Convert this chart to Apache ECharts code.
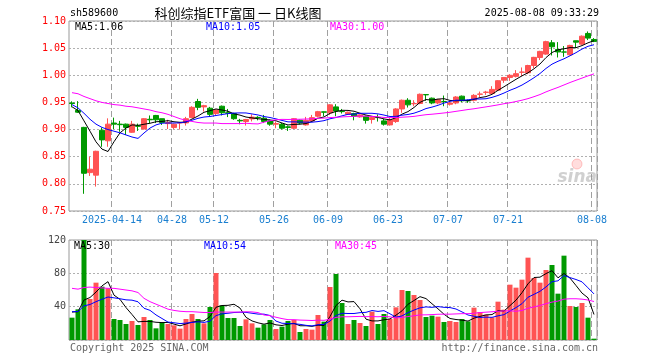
<!DOCTYPE html>
<html><head><meta charset="utf-8">
<script src="https://cdn.jsdelivr.net/npm/echarts@6/dist/echarts.min.js"></script>
<style>html,body{margin:0;padding:0;background:#fff}#c{width:660px;height:360px}</style>
</head><body><div id="c"></div>
<script>
const dates = ["2025-04-02","2025-04-03","2025-04-07","2025-04-08","2025-04-09","2025-04-10","2025-04-11","2025-04-14","2025-04-15","2025-04-16","2025-04-17","2025-04-18","2025-04-21","2025-04-22","2025-04-23","2025-04-24","2025-04-25","2025-04-28","2025-04-29","2025-04-30","2025-05-06","2025-05-07","2025-05-08","2025-05-09","2025-05-12","2025-05-13","2025-05-14","2025-05-15","2025-05-16","2025-05-19","2025-05-20","2025-05-21","2025-05-22","2025-05-23","2025-05-26","2025-05-27","2025-05-28","2025-05-29","2025-05-30","2025-06-03","2025-06-04","2025-06-05","2025-06-06","2025-06-09","2025-06-10","2025-06-11","2025-06-12","2025-06-13","2025-06-16","2025-06-17","2025-06-18","2025-06-19","2025-06-20","2025-06-23","2025-06-24","2025-06-25","2025-06-26","2025-06-27","2025-06-30","2025-07-01","2025-07-02","2025-07-03","2025-07-04","2025-07-07","2025-07-08","2025-07-09","2025-07-10","2025-07-11","2025-07-14","2025-07-15","2025-07-16","2025-07-17","2025-07-18","2025-07-21","2025-07-22","2025-07-23","2025-07-24","2025-07-25","2025-07-28","2025-07-29","2025-07-30","2025-07-31","2025-08-01","2025-08-04","2025-08-05","2025-08-06","2025-08-07","2025-08-08"];

const open = [0.949,0.9354,0.904,0.8207,0.816,0.8988,0.8793,0.912,0.910,0.910,
0.895,0.907,0.901,0.919,0.926,0.920,0.911,0.904,0.912,0.9123,
0.9221,0.9517,0.9418,0.9394,0.9295,0.943,0.931,0.9295,0.917,0.9148,
0.9197,0.9225,0.921,0.916,0.910,0.9098,0.905,0.9025,0.9172,0.9086,
0.916,0.9246,0.9326,0.9308,0.9418,0.9334,0.9283,0.9295,0.9234,0.9246,
0.9185,0.9222,0.916,0.9086,0.9148,0.938,0.954,0.9475,0.948,0.9645,
0.9578,0.949,0.9518,0.9467,0.949,0.9615,0.9532,0.954,0.965,0.9685,
0.9664,0.9726,0.991,0.996,0.998,1.0055,1.0046,1.018,1.0328,1.039,
1.0599,1.0476,1.043,1.0378,1.0636,1.0574,1.0771,1.066];
const close = [0.948,0.932,0.8195,0.827,0.860,0.881,0.910,0.910,0.909,0.904,
0.910,0.906,0.920,0.918,0.918,0.913,0.913,0.910,0.913,0.920,
0.941,0.941,0.944,0.928,0.936,0.931,0.930,0.920,0.916,0.9185,
0.923,0.922,0.915,0.910,0.911,0.9025,0.904,0.920,0.912,0.917,
0.922,0.933,0.932,0.9455,0.934,0.933,0.932,0.9246,0.927,0.917,
0.922,0.922,0.910,0.918,0.938,0.954,0.9455,0.948,0.965,0.964,
0.949,0.955,0.9515,0.949,0.960,0.953,0.953,0.963,0.9655,0.969,
0.974,0.990,0.996,1.000,1.003,1.006,1.018,1.033,1.044,1.062,
1.0525,1.043,1.0427,1.055,1.061,1.072,1.0685,1.0624];
const low = [0.941,0.9305,0.7817,0.8146,0.795,0.8683,0.8683,0.901,0.896,0.890,
0.894,0.8975,0.900,0.912,0.912,0.9085,0.901,0.901,0.900,0.9074,
0.921,0.9357,0.9332,0.9234,0.926,0.926,0.923,0.918,0.9098,0.9074,
0.915,0.917,0.912,0.907,0.9025,0.900,0.8975,0.901,0.9098,0.9074,
0.9148,0.9221,0.9246,0.927,0.9246,0.9295,0.927,0.917,0.922,0.911,
0.911,0.9148,0.9074,0.9074,0.9123,0.9308,0.9406,0.943,0.9467,0.953,
0.9467,0.9467,0.943,0.9443,0.9467,0.9504,0.9492,0.9517,0.960,0.964,
0.9652,0.9713,0.9861,0.9898,0.996,0.9984,1.0021,1.0132,1.028,1.0378,
1.0365,1.0328,1.034,1.0365,1.050,1.0562,1.0648,1.0611];
const high = [0.952,0.9524,0.905,0.850,0.861,0.9037,0.9207,0.922,0.916,0.911,
0.916,0.911,0.921,0.926,0.927,0.920,0.918,0.911,0.913,0.9234,
0.943,0.9566,0.9455,0.9418,0.937,0.9443,0.938,0.931,0.9197,0.9197,
0.928,0.9246,0.927,0.9185,0.9148,0.912,0.9074,0.921,0.9185,0.9234,
0.927,0.9344,0.9332,0.9467,0.9467,0.938,0.933,0.931,0.928,0.9258,
0.9234,0.928,0.9197,0.921,0.9394,0.9553,0.9578,0.9541,0.9664,0.9645,
0.959,0.9566,0.9627,0.9517,0.9615,0.9627,0.9553,0.9652,0.970,0.9713,
0.980,0.991,0.996,1.002,1.0095,1.0144,1.0193,1.034,1.0451,1.0636,
1.0648,1.0611,1.0538,1.0562,1.0636,1.0734,1.0808,1.0685];

const ma5 = [0.942,0.935,0.916,0.897,0.8774,0.864,0.8596,0.8776,0.894,0.9028,
0.9086,0.9078,0.9098,0.9116,0.9144,0.915,0.9164,0.9144,0.9134,0.9138,
0.9194,0.925,0.9318,0.9348,0.938,0.936,0.9338,0.929,0.9266,0.9231,
0.9215,0.9199,0.9189,0.9177,0.9162,0.9121,0.9085,0.9095,0.9099,0.9111,
0.915,0.9208,0.9232,0.9299,0.9333,0.9355,0.9353,0.9338,0.9301,0.9267,
0.9245,0.9225,0.9196,0.9178,0.922,0.9284,0.9331,0.9407,0.9501,0.9553,
0.9543,0.9562,0.9569,0.9537,0.9529,0.9537,0.9533,0.9556,0.9589,0.9607,
0.9649,0.9723,0.9789,0.9858,0.9926,0.999,1.0046,1.012,1.0208,1.0326,
1.0419,1.0469,1.0488,1.051,1.0508,1.0547,1.0598,1.0638];
const ma10 = [0.946,0.940,0.930,0.919,0.910,0.904,0.900,0.897,0.894,0.8901,
0.8863,0.8837,0.8937,0.9028,0.9086,0.9118,0.9121,0.9121,0.9125,0.9141,
0.9172,0.9207,0.9231,0.9241,0.9259,0.9277,0.9294,0.9304,0.9307,0.9306,
0.9288,0.9269,0.924,0.9222,0.9197,0.9168,0.9142,0.9142,0.9138,0.9137,
0.9136,0.9147,0.9164,0.9199,0.9222,0.9253,0.9281,0.9285,0.93,0.93,
0.93,0.9289,0.9267,0.924,0.9244,0.9265,0.9278,0.9302,0.934,0.9387,
0.9414,0.9447,0.9488,0.9519,0.9541,0.954,0.9548,0.9563,0.9563,0.9568,
0.9593,0.9628,0.9673,0.9724,0.9767,0.982,0.9885,0.9955,1.0033,1.0126,
1.0205,1.0258,1.0304,1.0359,1.0417,1.0483,1.0534,1.0563];
const ma30 = [0.968,0.966,0.961,0.957,0.953,0.950,0.948,0.946,0.945,0.943,
0.942,0.940,0.938,0.936,0.933,0.931,0.928,0.924,0.920,0.917,
0.915,0.913,0.912,0.912,0.912,0.911,0.911,0.911,0.911,0.9116,
0.9108,0.9104,0.9136,0.9164,0.9181,0.9188,0.9186,0.9189,0.919,0.9194,
0.9198,0.9207,0.9211,0.9221,0.9226,0.9233,0.9239,0.9244,0.9248,0.9247,
0.9241,0.9235,0.9223,0.922,0.9221,0.9228,0.9234,0.9243,0.9259,0.9274,
0.9283,0.9294,0.9306,0.9319,0.9336,0.9352,0.9369,0.9383,0.9401,0.9418,
0.9436,0.9455,0.9476,0.9494,0.9517,0.9541,0.957,0.9606,0.9645,0.9694,
0.9737,0.9777,0.9822,0.9867,0.9908,0.9948,0.9989,1.0027];

const volume = [26.8,36.8,128,49.2,68.8,64,62,25.2,24,19.2,
22.8,18,27.6,24,14,20.8,19.2,17.6,13.6,25.2,
31.2,25.2,20,39.6,80.4,41.6,26.4,26.4,16.8,24.8,
20,14.8,18.8,24,13.2,16,22.8,24,9.6,13.2,
12.4,30,22,63.6,79.2,44.4,19.2,24,20.4,16.8,
34,19.2,31.2,25.2,39.2,60,58.8,54,48,27.6,
29.2,28,21.6,22.8,21.6,25.2,22.4,38.8,33.6,30.4,
27.2,46,36.4,66.4,62.8,72.4,98.8,74.4,68.8,84,
90,55.6,101.2,40.8,39.6,44.4,26.8,1.6];
const volMa5 = [33.5,34,48,51,57.5,65,70,53.8,48.8,38.9,
30.6,21.8,22.3,22.3,21.3,20.9,21.1,19.1,17.0,19.3,
21.4,22.6,23.0,28.2,39.3,41.4,41.6,42.9,38.3,27.2,
22.9,20.6,19.0,20.5,18.2,17.4,19.0,20,17.1,17.1,
16.4,17.8,17.4,28.2,41.4,47.8,45.7,46.1,37.4,25.0,
22.9,22.9,24.3,25.3,29.8,35.0,42.9,47.4,52,49.7,
43.5,37.4,30.9,25.8,24.6,23.8,22.7,26.2,28.3,30.1,
30.5,35.2,34.7,41.3,47.8,56.8,67.4,75.0,75.4,79.7,
83.2,74.6,79.9,74.3,65.4,56.3,50.6,30.6];
const volMa10 = [34,34.2,41,42.6,46,48.9,51.6,50.6,49.5,48.2,
47.8,45.9,38.1,35.6,30.1,25.8,21.5,20.7,19.7,20.3,
21.1,21.8,21.1,22.6,29.3,31.4,32.1,33.0,33.3,33.2,
32.1,31.1,31.0,29.4,22.7,20.1,19.8,19.5,18.8,17.6,
16.9,18.4,18.7,22.7,29.3,32.1,31.8,31.8,32.8,33.2,
35.4,34.3,35.2,31.4,27.4,28.9,32.9,35.9,38.6,39.7,
39.2,40.1,39.2,38.9,37.2,33.7,30.0,28.5,27.1,27.4,
27.2,29.0,30.4,34.8,38.9,43.6,51.3,54.8,58.4,63.7,
70.0,71.0,77.4,74.9,72.6,69.8,62.6,55.3];
const volMa30 = [62,61,63,63.5,63,62.5,62,62,61,60,
59,57,50,46,43,40,37,35.5,34.5,34,
34,33.5,33,33,33.5,33.5,33.5,33.5,33.5,33.9,
33.7,32.9,30.0,29.2,27.3,25.7,24.4,24.4,23.9,23.7,
23.4,23.8,23.6,24.9,27.1,27.9,27.9,28.1,28.3,28.0,
28.1,27.9,28.3,27.8,26.4,27.1,28.1,29.1,30.1,30.2,
30.5,30.9,31.0,31.0,31.3,31.6,31.6,32.1,32.9,33.4,
33.9,34.5,34.9,35.0,34.5,35.4,38.1,39.7,41.4,43.6,
45.5,46.7,49.0,49.5,49.5,49.0,48.0,46.2];

const tickDates = ["2025-04-14","2025-04-28","2025-05-12","2025-05-26","2025-06-09","2025-06-23","2025-07-07","2025-07-21","2025-08-08"];
const tickLabels = ["2025-04-14","04-28","05-12","05-26","06-09","06-23","07-07","07-21","08-08"];
const priceTicks = [0.75,1.10,0.05];
const volTicks = [0,120,40];

const UP = '#ff5353', DOWN = '#009900';
const MONO = '"DejaVu Sans Mono", "Liberation Mono", monospace';
const tickIdx = tickDates.map(d => dates.indexOf(d));
const isTick = (i) => tickIdx.indexOf(i) >= 0;
const labelOf = {}; tickDates.forEach((d, k) => labelOf[d] = tickLabels[k]);

const kData = dates.map((d, i) => [open[i], close[i], low[i], high[i]]);
const volData = volume.map((v, i) => ({value: v, itemStyle: {color: close[i] >= open[i] ? UP : DOWN}}));

const dashed = {show: true, interval: (i) => isTick(i), lineStyle: {color: '#a0a0a0', type: [6, 3], width: 1}};
const dotted = {show: true, lineStyle: {color: '#b0b0b0', type: [2, 2], width: 1}};

const chart = echarts.init(document.getElementById('c'), null, {renderer: 'canvas'});
const txt = (x, y, text, fill, font, align) => ({type: 'text', x: x, y: y, z: 100, silent: true,
  style: {text: text, fill: fill, font: font, textAlign: align || 'left', align: align || 'left', textVerticalAlign: 'middle', verticalAlign: 'middle'}});

chart.setOption({
  animation: false,
  backgroundColor: '#ffffff',
  grid: [
    {left: 69, top: 21, width: 528, height: 190, show: true, borderColor: '#999', borderWidth: 1, backgroundColor: 'transparent'},
    {left: 69, top: 240, width: 528, height: 100, show: true, borderColor: '#999', borderWidth: 1, backgroundColor: 'transparent'}
  ],
  xAxis: [
    {type: 'category', gridIndex: 0, data: dates, boundaryGap: true,
      axisLine: {show: false}, axisTick: {show: false},
      axisLabel: {interval: (i) => isTick(i), formatter: (v) => labelOf[v] || '', color: '#1a7fd0',
        fontFamily: MONO, fontSize: 10, margin: 4, padding: [0, 4, 0, 0]},
      splitLine: dashed},
    {type: 'category', gridIndex: 1, data: dates, boundaryGap: true,
      axisLine: {show: false}, axisTick: {show: false}, axisLabel: {show: false},
      splitLine: dashed}
  ],
  yAxis: [
    {type: 'value', gridIndex: 0, min: priceTicks[0], max: priceTicks[1], interval: priceTicks[2],
      axisLine: {show: false}, axisTick: {show: false},
      axisLabel: {color: '#ff0000', fontFamily: MONO, fontSize: 10, margin: 3, formatter: (v) => v.toFixed(2)},
      splitLine: dotted},
    {type: 'value', gridIndex: 1, min: volTicks[0], max: volTicks[1], interval: volTicks[2],
      axisLine: {show: false}, axisTick: {show: false},
      axisLabel: {color: '#444', fontFamily: MONO, fontSize: 10, margin: 3, formatter: (v) => v === 0 ? '' : String(v)},
      splitLine: dotted}
  ],
  series: [
    {type: 'candlestick', xAxisIndex: 0, yAxisIndex: 0, data: kData, barWidth: 5,
      itemStyle: {color: UP, color0: DOWN, borderColor: UP, borderColor0: DOWN, borderWidth: 1}},
    {type: 'line', xAxisIndex: 0, yAxisIndex: 0, data: ma5, symbol: 'none', lineStyle: {color: '#000', width: 1}, z: 5},
    {type: 'line', xAxisIndex: 0, yAxisIndex: 0, data: ma10, symbol: 'none', lineStyle: {color: '#0000ff', width: 1}, z: 5},
    {type: 'line', xAxisIndex: 0, yAxisIndex: 0, data: ma30, symbol: 'none', lineStyle: {color: '#ff00ff', width: 1}, z: 5},
    {type: 'bar', xAxisIndex: 1, yAxisIndex: 1, data: volData, barWidth: 5},
    {type: 'line', xAxisIndex: 1, yAxisIndex: 1, data: volMa5, symbol: 'none', lineStyle: {color: '#000', width: 1}, z: 5},
    {type: 'line', xAxisIndex: 1, yAxisIndex: 1, data: volMa10, symbol: 'none', lineStyle: {color: '#0000ff', width: 1}, z: 5},
    {type: 'line', xAxisIndex: 1, yAxisIndex: 1, data: volMa30, symbol: 'none', lineStyle: {color: '#ff00ff', width: 1}, z: 5}
  ],
  graphic: [
    txt(70, 13, 'sh589600', '#000', '10px ' + MONO),
    txt(238, 13, '科创综指ETF富国 一 日K线图', '#000', '13px "Noto Sans CJK SC"', 'center'),
    txt(599, 13, '2025-08-08 09:33:29', '#000', '10px ' + MONO, 'right'),
    txt(75, 27, 'MA5:1.06', '#000', '10px ' + MONO),
    txt(206, 27, 'MA10:1.05', '#0000ff', '10px ' + MONO),
    txt(330, 27, 'MA30:1.00', '#ff00ff', '10px ' + MONO),
    txt(74, 246, 'MA5:30', '#000', '10px ' + MONO),
    txt(204, 246, 'MA10:54', '#0000ff', '10px ' + MONO),
    txt(335, 246, 'MA30:45', '#ff00ff', '10px ' + MONO),
    txt(70, 348, 'Copyright 2025 SINA.COM', '#666', '10px ' + MONO),
    txt(598, 348, 'http://finance.sina.com.cn', '#666', '10px ' + MONO, 'right'),
    {type: 'circle', shape: {cx: 577, cy: 164, r: 5}, z: 90, silent: true,
      style: {fill: 'rgba(255,120,120,0.25)', stroke: 'rgba(255,100,100,0.35)', lineWidth: 1}},
    txt(597, 178, 'sina', 'rgba(150,150,150,0.45)', 'italic bold 17px "DejaVu Sans"', 'right')
  ]
});
</script></body></html>
